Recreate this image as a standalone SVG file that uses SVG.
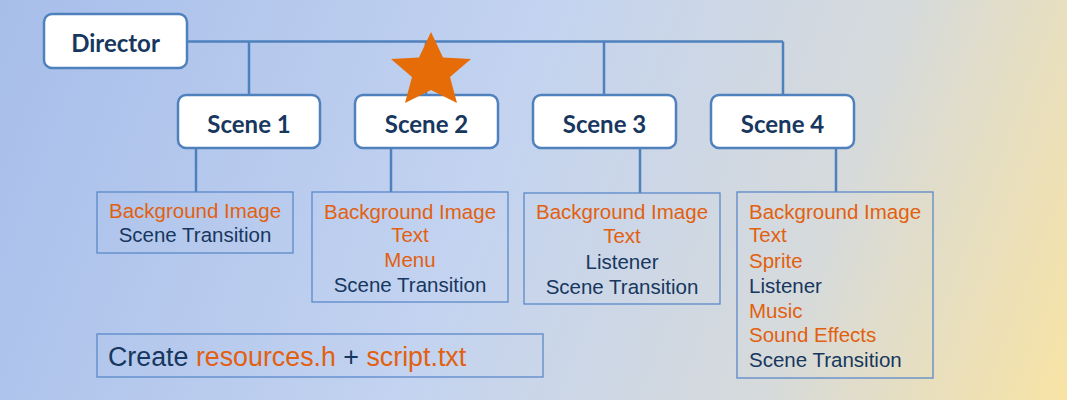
<svg xmlns="http://www.w3.org/2000/svg" width="1067" height="400" viewBox="0 0 1067 400">
<defs>
<linearGradient id="bg" x1="0" y1="0" x2="1067" y2="400" gradientUnits="userSpaceOnUse">
<stop offset="0" stop-color="#A7BEEA"/>
<stop offset="0.45" stop-color="#C3D3F0"/>
<stop offset="0.75" stop-color="#D6DADB"/>
<stop offset="1" stop-color="#F8E3A4"/>
</linearGradient>
<style>
.node rect{fill:#fff;stroke:#4F81BD;stroke-width:2.5}
.node text{font-family:Lato,"Open Sans",sans-serif;font-weight:bold;font-size:24px;fill:#17375E;text-anchor:middle}
.box rect{fill:none;stroke:#5B89C9;stroke-width:1.3}
.box text{font-family:"Liberation Sans",Arial,sans-serif;font-size:20.5px}
.c{text-anchor:middle}
.o{fill:#E2600F}
.b{fill:#17375E}
#connectors path{fill:none;stroke:#4F81BD;stroke-width:2.5}
</style>
</defs>
<rect width="1067" height="400" fill="url(#bg)"/>
<g id="connectors">
<path d="M187 41.5H783M249 41.5V95M426 41.5V95M604 41.5V95M783 41.5V95"/>
<path d="M196 148V192M391 148V192M640 148V193M836 147V192"/>
</g>
<g id="director" class="node"><rect x="44" y="14" width="143" height="54" rx="8"/><text x="115.5" y="52">Director</text></g>
<g id="scene1" class="node"><rect x="178" y="95" width="142" height="53" rx="8"/><text x="249" y="132.5">Scene 1</text></g>
<g id="scene2" class="node"><rect x="355" y="95" width="143" height="53" rx="8"/><text x="426.5" y="132.5">Scene 2</text></g>
<g id="scene3" class="node"><rect x="533" y="95" width="143" height="53" rx="8"/><text x="604.5" y="132.5">Scene 3</text></g>
<g id="scene4" class="node"><rect x="711" y="95" width="143" height="53" rx="8"/><text x="782.5" y="132.5">Scene 4</text></g>
<g id="star"><polygon fill="#E66C08" points="431,32 443,57.5 471,59 450,77 457,103 431,90 405,103 412,77 391,59 419,57.5"/></g>
<g id="box1" class="box"><rect x="97" y="192" width="196" height="61"/>
<text class="c o" x="195" y="218">Background Image</text>
<text class="c b" x="195" y="242">Scene Transition</text></g>
<g id="box2" class="box"><rect x="312" y="192" width="196" height="110"/>
<text class="c o" x="410" y="219">Background Image</text>
<text class="c o" x="410" y="242">Text</text>
<text class="c o" x="410" y="267">Menu</text>
<text class="c b" x="410" y="292">Scene Transition</text></g>
<g id="box3" class="box"><rect x="524" y="193" width="196" height="111"/>
<text class="c o" x="622" y="219">Background Image</text>
<text class="c o" x="622" y="243">Text</text>
<text class="c b" x="622" y="269">Listener</text>
<text class="c b" x="622" y="294">Scene Transition</text></g>
<g id="box4" class="box"><rect x="737" y="192" width="196" height="186"/>
<text class="o" x="749" y="219">Background Image</text>
<text class="o" x="749" y="242">Text</text>
<text class="o" x="749" y="268">Sprite</text>
<text class="b" x="749" y="293">Listener</text>
<text class="o" x="749" y="318">Music</text>
<text class="o" x="749" y="342">Sound Effects</text>
<text class="b" x="749" y="367">Scene Transition</text></g>
<g id="create" class="box"><rect x="97" y="334" width="446" height="43"/>
<text x="108" y="366" style="font-size:26.8px"><tspan class="b">Create </tspan><tspan class="o">resources.h</tspan><tspan class="b"> + </tspan><tspan class="o">script.txt</tspan></text></g>
</svg>
